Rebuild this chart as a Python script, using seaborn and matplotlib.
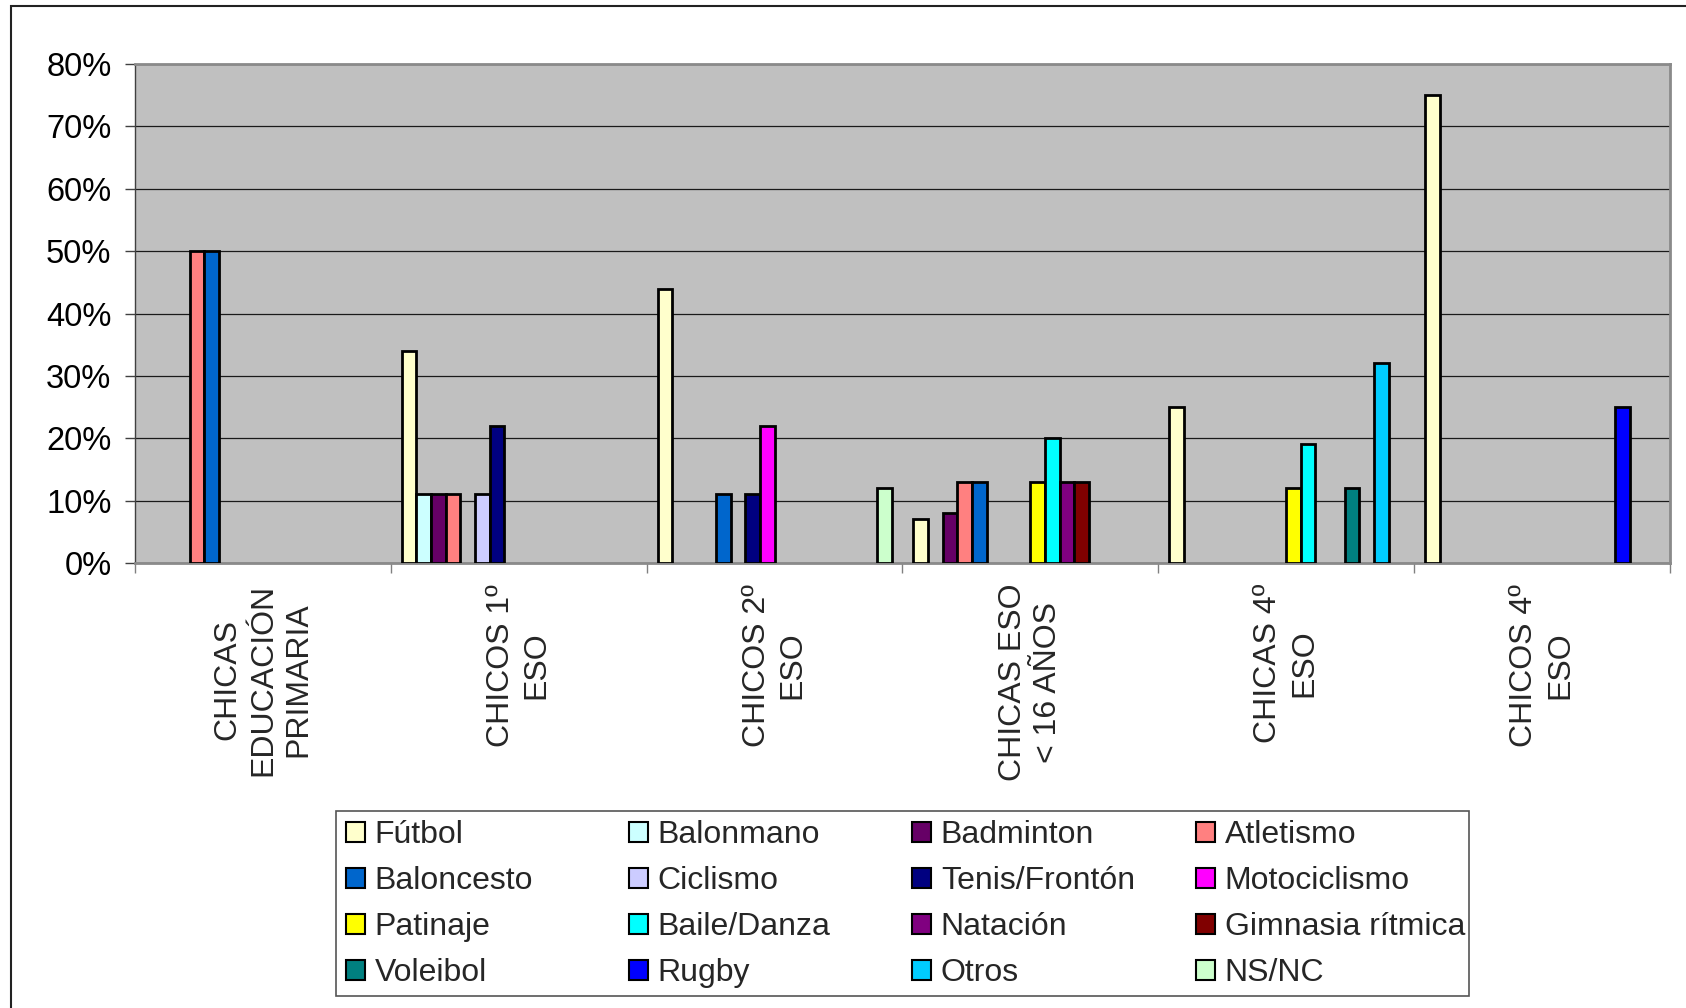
import numpy as np
import pandas as pd
import seaborn as sns
from matplotlib import pyplot as plt
from matplotlib.patches import Patch, Rectangle
from matplotlib.ticker import FuncFormatter, FixedLocator

groups = ['CHICAS\nEDUCACIÓN\nPRIMARIA', 'CHICOS 1º\nESO', 'CHICOS 2º\nESO',
          'CHICAS ESO\n< 16 AÑOS', 'CHICAS 4º\nESO', 'CHICOS 4º\nESO']

sports = ['Fútbol', 'Balonmano', 'Badminton', 'Atletismo',
          'Baloncesto', 'Ciclismo', 'Tenis/Frontón', 'Motociclismo',
          'Patinaje', 'Baile/Danza', 'Natación', 'Gimnasia rítmica',
          'Voleibol', 'Rugby', 'Otros', 'NS/NC']

colors = ['#FFFFCC', '#CCFFFF', '#660066', '#FF8080',
          '#0066CC', '#CCCCFF', '#000080', '#FF00FF',
          '#FFFF00', '#00FFFF', '#800080', '#800000',
          '#008080', '#0000FF', '#00CCFF', '#CCFFCC']

# percent per sport (rows follow `sports`, columns follow `groups`)
futbol = [0, 34, 44, 7, 25, 75]
balonmano = [0, 11, 0, 0, 0, 0]
badminton = [0, 11, 0, 8, 0, 0]
atletismo = [50, 11, 0, 13, 0, 0]
baloncesto = [50, 0, 11, 13, 0, 0]
ciclismo = [0, 11, 0, 0, 0, 0]
tenis = [0, 22, 11, 0, 0, 0]
motociclismo = [0, 0, 22, 0, 0, 0]
patinaje = [0, 0, 0, 13, 12, 0]
baile = [0, 0, 0, 20, 19, 0]
natacion = [0, 0, 0, 13, 0, 0]
gimnasia = [0, 0, 0, 13, 0, 0]
voleibol = [0, 0, 0, 0, 12, 0]
rugby = [0, 0, 0, 0, 0, 25]
otros = [0, 0, 0, 0, 32, 0]
nsnc = [0, 0, 12, 0, 0, 0]

series = [futbol, balonmano, badminton, atletismo, baloncesto, ciclismo, tenis,
          motociclismo, patinaje, baile, natacion, gimnasia, voleibol, rugby,
          otros, nsnc]

rows = []
for sport, vals in zip(sports, series):
    for g, v in zip(groups, vals):
        if v > 0:
            rows.append({'grupo': g, 'deporte': sport, 'valor': v})
df = pd.DataFrame(rows)

sns.set_theme(style='white')
plt.rcParams['font.family'] = ['Liberation Sans', 'DejaVu Sans']

W, H = 1686, 1008
fig = plt.figure(figsize=(W / 100, H / 100), dpi=100)
ax = fig.add_axes([135 / W, 1 - 563 / H, (1670 - 135) / W, (563 - 64) / H])
ax.set_facecolor('#C0C0C0')

sns.barplot(data=df, x='grupo', y='valor', hue='deporte', order=groups,
            hue_order=sports, palette=dict(zip(sports, colors)), saturation=1,
            width=16 / 17.5, gap=0, errorbar=None, edgecolor='black',
            linewidth=2, legend=False, ax=ax, zorder=3)

ax.set_xlim(-0.5, len(groups) - 0.5)
ax.set_ylim(0, 80)
ax.set_yticks(np.arange(0, 81, 10))
ax.yaxis.set_major_formatter(FuncFormatter(lambda v, _: f'{int(v)}%'))
ax.grid(axis='y', color='#1a1a1a', linewidth=0.9, zorder=1)
ax.set_axisbelow(True)
ax.set_xlabel('')
ax.set_ylabel('')

ax.tick_params(axis='y', which='major', left=True, length=7, width=1,
               color='#404040', labelsize=23.5, pad=10, labelcolor='black')
ax.tick_params(axis='x', which='major', bottom=False, length=0, pad=15)
ax.xaxis.set_minor_locator(FixedLocator(np.arange(-0.5, len(groups), 1.0)))
ax.tick_params(axis='x', which='minor', bottom=True, length=7, width=1,
               color='#808080')
ax.set_xticks(range(len(groups)))
ax.set_xticklabels(groups, rotation=90, ha='center', va='top',
                   multialignment='center', fontsize=23, linespacing=1.25)

for side in ['top', 'right', 'bottom']:
    ax.spines[side].set_color('#8a8a8a')
    ax.spines[side].set_linewidth(2)
ax.spines['left'].set_color('#404040')
ax.spines['left'].set_linewidth(1)

# legend: four columns, rows filled left to right, inside one frame
lx0, lx1, ly0, ly1 = 336, 1469, 811, 996
fig.patches.append(Rectangle((lx0 / W, 1 - ly1 / H), (lx1 - lx0) / W, (ly1 - ly0) / H,
                             transform=fig.transFigure, fill=False,
                             edgecolor='#555555', linewidth=1.2))
col_x = [346, 629, 912, 1196]
for c in range(4):
    idx = [c + 4 * r for r in range(4)]
    handles = [Patch(facecolor=colors[i], edgecolor='black', linewidth=1.5) for i in idx]
    fig.legend(handles, [sports[i] for i in idx], loc='upper left',
               bbox_to_anchor=(col_x[c] / W, 1 - 820 / H), frameon=False,
               fontsize=23, borderpad=0, borderaxespad=0, handlelength=0.6,
               handleheight=0.6, handletextpad=0.3, labelspacing=0.5)

# outer chart frame
fig.patches.append(Rectangle((11 / W, -0.1), 1.2, 1.1 - 6 / H,
                             transform=fig.transFigure, fill=False,
                             edgecolor='#222222', linewidth=1.5))

fig.savefig('out.png', dpi=100, facecolor='white')
